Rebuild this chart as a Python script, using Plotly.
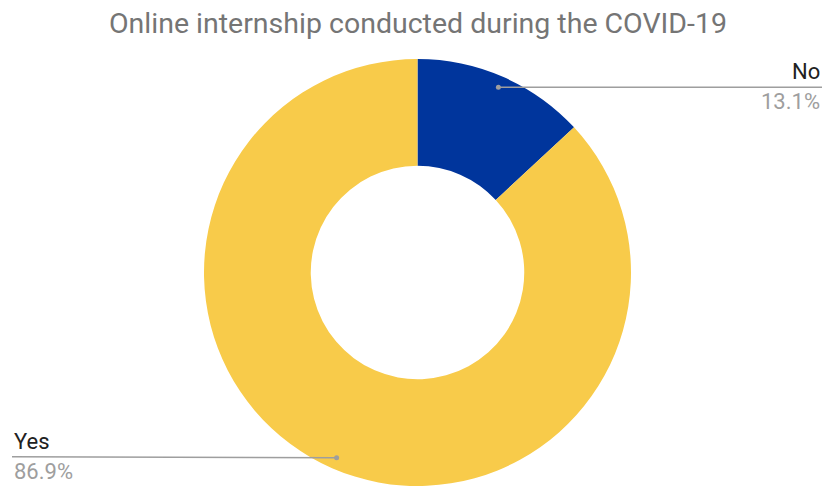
import math
import plotly.graph_objects as go

# Survey answers
labels = ["No", "Yes"]
values = [13.1, 86.9]
colors = ["#00359C", "#F8CB4A"]

W, H = 826, 486
cx, cy = 417.5, 272.5          # donut centre (pixels from top-left)
R = 213.5                      # outer radius in pixels
hole = 0.5

fig = go.Figure(go.Pie(
    labels=labels,
    values=values,
    hole=hole,
    sort=False,
    direction="clockwise",
    rotation=0,
    marker=dict(colors=colors, line=dict(width=0)),
    textinfo="none",
    hoverinfo="label+percent",
    showlegend=False,
    domain=dict(x=[(cx - R) / W, (cx + R) / W],
                y=[(H - cy - R) / H, (H - cy + R) / H]),
))


def px(x, y):
    """pixel (top-left origin) -> paper coords"""
    return x / W, 1 - y / H


total = sum(values)
shapes, annotations = [], []
start = 0.0
for i, (lab, val) in enumerate(zip(labels, values)):
    mid = (start + val / 2) / total * 2 * math.pi
    start += val
    r = R * 0.947
    dx, dy = cx + r * math.sin(mid), cy - r * math.cos(mid)
    right = math.sin(mid) > 0
    ex = W - 4 if right else 12
    ey = dy + (0 if right else -1)
    x0, y0 = px(dx, dy)
    x1, y1 = px(ex, ey)
    shapes.append(dict(type="line", xref="paper", yref="paper",
                       x0=x0, y0=y0, x1=x1, y1=y1,
                       line=dict(color="#9E9E9E", width=1.5)))
    shapes.append(dict(type="circle", xref="paper", yref="paper",
                       x0=x0 - 2.5 / W, x1=x0 + 2.5 / W,
                       y0=y0 - 2.5 / H, y1=y0 + 2.5 / H,
                       fillcolor="#9E9E9E", line=dict(width=0)))
    anchor = "right" if right else "left"
    annotations.append(dict(xref="paper", yref="paper", x=x1, y=y1,
                            text=lab, showarrow=False, xanchor=anchor,
                            yanchor="bottom", yshift=1,
                            font=dict(family="Roboto", size=22, color="#212121")))
    pct = f"{val / total * 100:.1f}%"
    annotations.append(dict(xref="paper", yref="paper", x=x1, y=y1,
                            text=pct, showarrow=False, xanchor=anchor,
                            yanchor="top", yshift=0,
                            font=dict(family="Roboto", size=22, color="#9E9E9E")))

fig.update_layout(
    width=W, height=H,
    margin=dict(l=0, r=0, t=0, b=0),
    paper_bgcolor="white",
    plot_bgcolor="white",
    title=dict(text="Online internship conducted during the COVID-19",
               x=0.506, xanchor="center", y=1 - 23 / H, yanchor="middle",
               font=dict(family="Roboto", size=28.5, color="#757575")),
    shapes=shapes,
    annotations=annotations,
)

fig.write_html("out.html")
